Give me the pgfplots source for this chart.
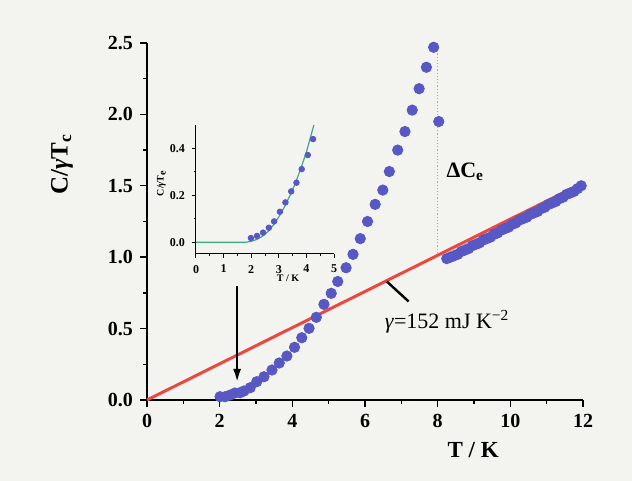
\documentclass[border=0pt]{standalone}
\usepackage{fontspec}
\setmainfont{Liberation Serif}
\usepackage{pgfplots}
\pgfplotsset{compat=1.18}
\usetikzlibrary{arrows.meta}
\definecolor{bg}{RGB}{243,243,240}
\definecolor{dotblue}{RGB}{88,88,196}
\definecolor{fitred}{RGB}{234,72,64}
\definecolor{fitgreen}{RGB}{60,172,132}
\definecolor{pinkdot}{RGB}{222,150,160}
\begin{document}
\begin{tikzpicture}
\fill[bg] (0,0) rectangle (316pt,240.5pt);
\useasboundingbox (0,0) rectangle (316pt,240.5pt);
% main axis
\begin{axis}[
    at={(73.5pt,40.5pt)}, anchor=south west,
    scale only axis, width=218pt, height=178.5pt,
    xmin=0, xmax=12, ymin=0, ymax=2.5,
    axis lines=left, axis line style={-, line width=0.8pt},
    clip=false,
    xtick={0,2,...,12}, ytick={0,0.5,...,2.5},
    minor x tick num=1, minor y tick num=1,
    tick align=outside, major tick length=3.5pt, minor tick length=2pt,
    tick style={line width=0.7pt, black},
    tick label style={font=\fontsize{10}{11}\selectfont\bfseries},
    /pgf/number format/assume math mode=true,
    yticklabel style={/pgf/number format/.cd, fixed, fixed zerofill, precision=1},
    xlabel={T / K}, ylabel={C/\textit{γ}T\textsubscript{c}},
    xlabel style={at={(axis description cs:0.748,-0.14)}, anchor=center, font=\fontsize{11.5}{12}\selectfont\bfseries},
    ylabel style={at={(axis description cs:-0.195,0.66)}, anchor=center, rotate=0, font=\fontsize{12.5}{13}\selectfont\bfseries},
]
\addplot[fitred, line width=1.5pt] coordinates {(0,0) (12,1.52)};
\draw[pinkdot, densely dotted, line width=0.6pt] (axis cs:7.99,1.03) -- (axis cs:7.99,2.46);
\addplot[only marks, mark=*, mark size=2.6pt, dotblue, mark options={draw=none, fill=dotblue}] coordinates {
(2.01,0.023) (2.15,0.023) (2.29,0.035) (2.42,0.049) (2.56,0.051) (2.67,0.063)
(2.84,0.086) (3.02,0.128) (3.22,0.163) (3.44,0.21) (3.64,0.259) (3.85,0.308)
(4.06,0.369) (4.26,0.436) (4.46,0.502) (4.66,0.579) (4.87,0.67) (5.07,0.747)
(5.25,0.83) (5.48,0.926) (5.67,1.02) (5.87,1.13) (6.07,1.25) (6.28,1.37)
(6.49,1.47) (6.67,1.60) (6.90,1.75) (7.10,1.88) (7.30,2.03) (7.49,2.18)
(7.69,2.33) (7.89,2.47) (8.03,1.95)
};
\addplot[only marks, mark=*, mark size=2.6pt, dotblue, mark options={draw=none, fill=dotblue}] coordinates {
(8.25,0.99) (8.35,1.00) (8.45,1.01) (8.55,1.02) (8.65,1.04) (8.75,1.05)
(8.85,1.06) (8.95,1.08) (9.05,1.09) (9.15,1.10) (9.25,1.12) (9.35,1.13)
(9.45,1.14) (9.55,1.16) (9.65,1.17) (9.75,1.19) (9.85,1.20) (9.95,1.21)
(10.05,1.23) (10.15,1.24) (10.25,1.26) (10.35,1.27) (10.45,1.28) (10.55,1.30)
(10.65,1.31) (10.75,1.32) (10.85,1.34) (10.95,1.35) (11.05,1.37) (11.15,1.38)
(11.25,1.39) (11.35,1.41) (11.45,1.42) (11.55,1.44) (11.65,1.45) (11.75,1.46)
(11.85,1.48) (11.95,1.50)
};
\draw[line width=1.2pt] (axis cs:6.6,0.83) -- (axis cs:7.2,0.69);
\node[font=\fontsize{11}{12}\selectfont] at (axis cs:8.26,0.546) {\textit{γ}=152 mJ K\textsuperscript{−2}};
\node[font=\fontsize{11}{12}\selectfont\bfseries, anchor=west] at (axis cs:8.05,1.6) {ΔC\textsubscript{e}};
\draw[line width=1.3pt, -{Latex[length=7pt,width=4pt]}] (axis cs:2.48,0.80) -- (axis cs:2.48,0.12);
\end{axis}
% inset
\begin{axis}[
    at={(98pt,113.5pt)}, anchor=south west,
    scale only axis, width=69pt, height=64.5pt,
    xmin=0, xmax=5, ymin=-0.05, ymax=0.5,
    axis lines=left, axis line style={-, line width=0.5pt},
    xtick={0,1,...,5}, ytick={0,0.2,0.4},
    minor x tick num=1, minor y tick num=1,
    tick align=outside, major tick length=2pt, minor tick length=1.2pt,
    tick style={line width=0.5pt, black},
    tick label style={font=\fontsize{6}{7}\selectfont\bfseries},
    /pgf/number format/assume math mode=true,
    yticklabel style={/pgf/number format/.cd, fixed, fixed zerofill, precision=1},
    xlabel={T / K}, ylabel={C/\textit{γ}T\textsubscript{e}},
    xlabel style={at={(axis description cs:0.667,-0.19)}, anchor=center, font=\fontsize{5}{6}\selectfont\bfseries},
    ylabel style={at={(axis description cs:-0.25,0.55)}, anchor=center, font=\fontsize{5}{6}\selectfont\bfseries},
]
\addplot[fitgreen, line width=0.6pt] coordinates {
(0,0) (1.8,0) (2.0,0.004) (2.2,0.012) (2.4,0.025) (2.6,0.045) (2.8,0.073)
(3.0,0.108) (3.2,0.15) (3.4,0.198) (3.6,0.252) (3.8,0.315) (4.0,0.385)
(4.2,0.47) (4.27,0.5)
};
\addplot[only marks, mark=*, mark size=1.4pt, dotblue, mark options={draw=none, fill=dotblue}] coordinates {
(1.99,0.018) (2.21,0.027) (2.43,0.041) (2.64,0.062) (2.83,0.089) (3.04,0.13)
(3.24,0.17) (3.45,0.217) (3.64,0.254) (3.83,0.312) (4.05,0.372) (4.24,0.44)
};
\end{axis}
\end{tikzpicture}
\end{document}
